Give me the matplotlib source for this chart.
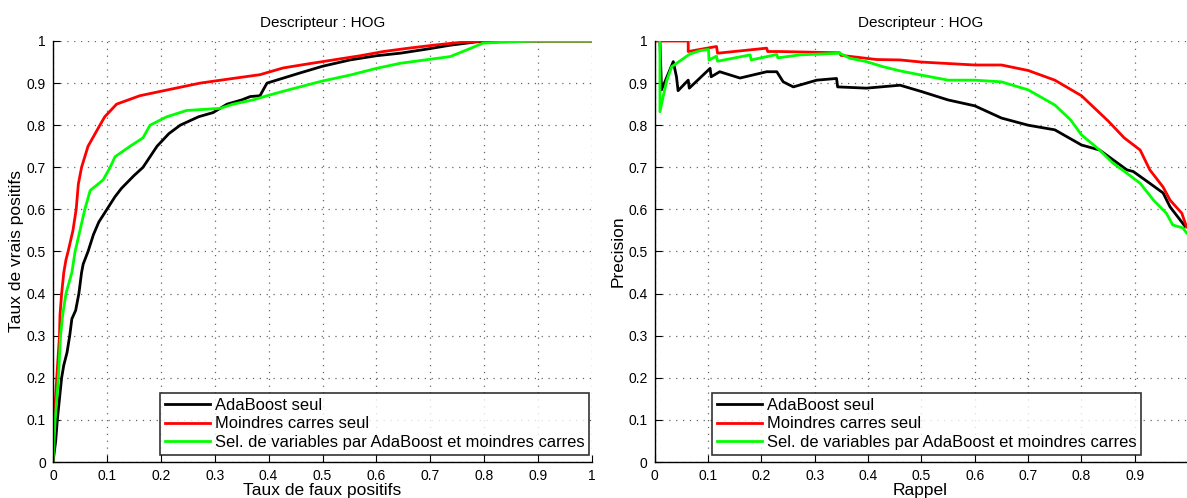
import matplotlib
matplotlib.use("Agg")
import matplotlib.pyplot as plt

plt.rcParams['font.family'] = ['Liberation Sans', 'DejaVu Sans']

title = "Descripteur : HOG"
labels = ["AdaBoost seul", "Moindres carres seul",
          "Sel. de variables par AdaBoost et moindres carres"]
colors = ["black", "red", "#00ff00"]

# ROC curves (false positive rate, true positive rate)
roc_ada_fpr = [0.0, 0.005, 0.008, 0.012, 0.016, 0.02, 0.026, 0.031, 0.035, 0.042, 0.048, 0.053,
               0.056, 0.065, 0.075, 0.085, 0.1, 0.115, 0.127, 0.15, 0.167, 0.193, 0.215, 0.236,
               0.27, 0.297, 0.323, 0.35, 0.366, 0.384, 0.397, 0.458, 0.5, 0.551, 0.6, 0.644,
               0.69, 0.737, 0.786, 0.85, 1.0]
roc_ada_tpr = [0.0, 0.05, 0.1, 0.15, 0.2, 0.23, 0.26, 0.3, 0.34, 0.36, 0.4, 0.45,
               0.47, 0.5, 0.54, 0.57, 0.6, 0.63, 0.65, 0.68, 0.7, 0.75, 0.78, 0.8,
               0.82, 0.83, 0.85, 0.86, 0.868, 0.87, 0.9, 0.924, 0.94, 0.955, 0.965, 0.971,
               0.98, 0.99, 0.998, 1.0, 1.0]

roc_ls_fpr = [0.0, 0.002, 0.007, 0.012, 0.013, 0.016, 0.02, 0.024, 0.028, 0.037, 0.043, 0.047,
              0.053, 0.065, 0.087, 0.096, 0.118, 0.161, 0.198, 0.273, 0.328, 0.384, 0.427,
              0.47, 0.52, 0.57, 0.613, 0.66, 0.706, 0.75, 0.798, 1.0]
roc_ls_tpr = [0.0, 0.1, 0.2, 0.3, 0.35, 0.4, 0.45, 0.48, 0.5, 0.55, 0.6, 0.66,
              0.7, 0.75, 0.8, 0.82, 0.85, 0.87, 0.88, 0.9, 0.91, 0.92, 0.936,
              0.945, 0.955, 0.965, 0.975, 0.983, 0.99, 0.996, 1.0, 1.0]

roc_sel_fpr = [0.0, 0.004, 0.01, 0.014, 0.018, 0.024, 0.035, 0.041, 0.05, 0.059, 0.069, 0.093,
               0.106, 0.115, 0.143, 0.167, 0.18, 0.211, 0.248, 0.31, 0.334, 0.371, 0.397,
               0.44, 0.458, 0.5, 0.551, 0.6, 0.644, 0.69, 0.737, 0.768, 0.798, 0.891, 1.0]
roc_sel_tpr = [0.0, 0.1, 0.2, 0.3, 0.35, 0.4, 0.45, 0.5, 0.55, 0.6, 0.645, 0.67,
               0.7, 0.725, 0.75, 0.77, 0.8, 0.82, 0.835, 0.84, 0.85, 0.86, 0.87,
               0.885, 0.891, 0.905, 0.919, 0.935, 0.947, 0.955, 0.963, 0.979, 0.995, 1.0, 1.0]

# Precision / recall curves
pr_ada_rec = [0.010, 0.010, 0.013, 0.035, 0.041, 0.044, 0.063, 0.065, 0.104, 0.106, 0.122,
              0.16, 0.21, 0.229, 0.241, 0.26, 0.304, 0.341, 0.343, 0.397, 0.46, 0.5, 0.55,
              0.6, 0.65, 0.7, 0.75, 0.8, 0.834, 0.885, 0.897, 0.928, 0.953, 0.966, 0.994]
pr_ada_prec = [1.0, 1.0, 0.884, 0.951, 0.915, 0.882, 0.907, 0.888, 0.935, 0.915, 0.927,
               0.912, 0.927, 0.927, 0.903, 0.891, 0.907, 0.911, 0.891, 0.888, 0.895, 0.88, 0.86,
               0.846, 0.817, 0.80, 0.789, 0.753, 0.741, 0.694, 0.69, 0.662, 0.639, 0.606, 0.56]

pr_ls_rec = [0.0, 0.063, 0.063, 0.116, 0.118, 0.21, 0.212, 0.235, 0.347, 0.349, 0.416, 0.46,
             0.5, 0.6, 0.65, 0.7, 0.75, 0.8, 0.85, 0.88, 0.91, 0.928, 0.953, 0.966, 0.988,
             0.997]
pr_ls_prec = [1.0, 1.0, 0.975, 0.987, 0.971, 0.983, 0.975, 0.975, 0.972, 0.966, 0.956, 0.955,
              0.95, 0.943, 0.943, 0.93, 0.907, 0.87, 0.81, 0.77, 0.741, 0.694, 0.653, 0.622,
              0.591, 0.558]

pr_sel_rec = [0.010, 0.010, 0.016, 0.023, 0.032, 0.048, 0.066, 0.085, 0.101, 0.102, 0.116,
              0.118, 0.179, 0.181, 0.229, 0.231, 0.272, 0.347, 0.366, 0.397, 0.428, 0.46,
              0.5, 0.55, 0.6, 0.65, 0.7, 0.75, 0.78, 0.8, 0.834, 0.859, 0.885, 0.91, 0.935,
              0.959, 0.971, 0.99, 0.997]
pr_sel_prec = [1.0, 0.832, 0.868, 0.907, 0.939, 0.953, 0.969, 0.977, 0.980, 0.955, 0.964,
               0.952, 0.967, 0.955, 0.968, 0.96, 0.967, 0.971, 0.959, 0.951, 0.939, 0.929,
               0.919, 0.907, 0.907, 0.903, 0.884, 0.848, 0.812, 0.777, 0.741, 0.71, 0.686, 0.662,
               0.622, 0.591, 0.563, 0.556, 0.544]

fig = plt.figure(figsize=(11.87, 4.98), dpi=100)
ax1 = fig.add_axes([53 / 1187, 36 / 498, 539 / 1187, 421 / 498])
ax2 = fig.add_axes([654.6 / 1187, 36 / 498, 532 / 1187, 421 / 498])

ticks = [i / 10 for i in range(11)]
tick_labels = ["0"] + [f"{t:.1f}" for t in ticks[1:-1]] + ["1"]


def style(ax, xmax):
    ax.set_xlim(0, xmax)
    ax.set_ylim(0, 1)
    ax.set_yticks(ticks)
    ax.set_yticklabels(tick_labels)
    xt = [t for t in ticks if t <= xmax + 1e-9]
    ax.set_xticks(xt)
    ax.set_xticklabels(tick_labels[:len(xt)])
    ax.spines['top'].set_visible(False)
    ax.spines['right'].set_visible(False)
    ax.spines['left'].set_linewidth(1.0)
    ax.spines['bottom'].set_linewidth(1.0)
    ax.grid(True, linestyle=(0, (1, 4.5)), color='#666666', linewidth=0.9)
    ax.tick_params(direction='in', length=5, labelsize=10, pad=5)
    ax.set_title(title, fontsize=11, pad=10)
    ax.set_axisbelow(True)


def add_legend(ax, anchor):
    leg = ax.legend(loc='lower left', bbox_to_anchor=anchor, fontsize=11.9, frameon=True,
                    fancybox=False, edgecolor='black', handlelength=2.7, handletextpad=0.3,
                    borderaxespad=0.0, labelspacing=0.22, borderpad=0.3)
    leg.get_frame().set_linewidth(1.2)
    return leg


for x, y, c, lab in [(roc_ada_fpr, roc_ada_tpr, colors[0], labels[0]),
                     (roc_ls_fpr, roc_ls_tpr, colors[1], labels[1]),
                     (roc_sel_fpr, roc_sel_tpr, colors[2], labels[2])]:
    ax1.plot(x, y, color=c, linewidth=2, label=lab)
style(ax1, 1.0)
ax1.set_xlabel("Taux de faux positifs", fontsize=12.5, labelpad=0)
ax1.set_ylabel("Taux de vrais positifs", fontsize=12.5, labelpad=2)
add_legend(ax1, ((160 - 53) / 539, 7 / 421))

for x, y, c, lab in [(pr_ada_rec, pr_ada_prec, colors[0], labels[0]),
                     (pr_ls_rec, pr_ls_prec, colors[1], labels[1]),
                     (pr_sel_rec, pr_sel_prec, colors[2], labels[2])]:
    ax2.plot(x, y, color=c, linewidth=2, label=lab)
style(ax2, 0.997)
ax2.set_xlabel("Rappel", fontsize=12.5, labelpad=0)
ax2.set_ylabel("Precision", fontsize=12.5, labelpad=2)
add_legend(ax2, ((712 - 654.6) / 532, 7 / 421))

fig.savefig("out.png", dpi=100)
